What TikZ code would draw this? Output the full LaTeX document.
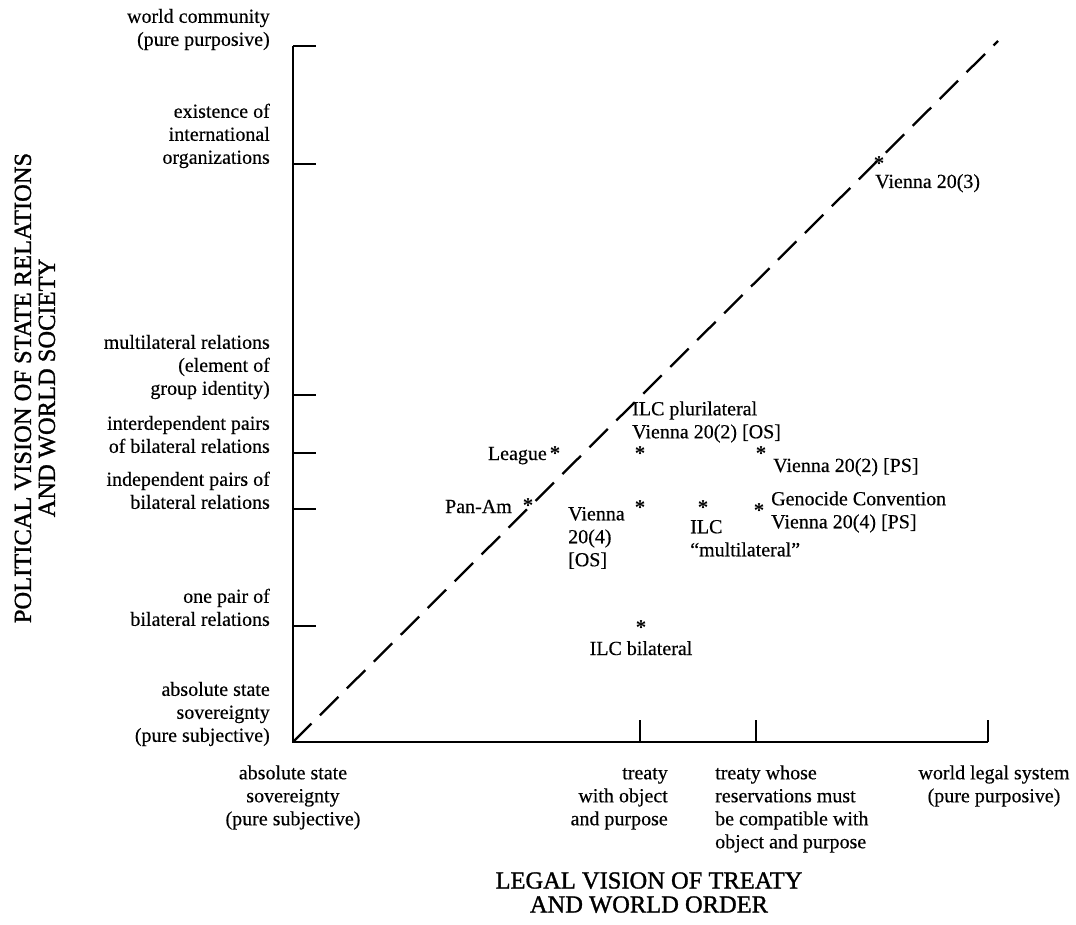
\documentclass[tikz,border=0pt]{standalone}
\usepackage{fontspec}
\setmainfont{Liberation Serif}[FakeBold=0.4]
\newfontfamily\ttlfont{Liberation Serif}[FakeBold=1.2]
\newfontfamily\pntfont{Liberation Serif Bold}
\begin{document}
\begin{tikzpicture}[
	axis/.style={line width=2pt},
	lbl/.style={inner sep=0pt, font=\fontsize{20}{23}\selectfont},
	ttl/.style={inner sep=0pt, font=\ttlfont\fontsize{24.5}{24}\selectfont, align=center},
	pnt/.style={inner sep=0pt, text height=14.5pt, text depth=-5.3pt, font=\pntfont\fontsize{21}{21}\selectfont}]
\useasboundingbox (-10.299,-6.432) rectangle (27.522,26.081);
\coordinate (O) at (0,0);
\coordinate (ytop) at (0,24.464);
\coordinate (xend) at (24.429,0);
\coordinate (diag) at (24.781,24.640);
\coordinate (tx) at (0.808,0); % tick length, y axis
\coordinate (ty) at (0,0.773); % tick length, x axis
\draw[axis] (ytop) -- (O) -- (xend); % axes
\draw[line width=2.3pt, dash pattern=on 26pt off 12pt] (O) -- (diag); % diagonal
% ticks on the y axis
\coordinate (yB) at (0,20.317);
\coordinate (yC) at (0,12.197);
\coordinate (yD) at (0,10.158);
\coordinate (yE) at (0,8.190);
\coordinate (yF) at (0,4.077);
\draw[axis] (ytop) -- (ytop -| tx);
\draw[axis] (yB) -- (yB -| tx);
\draw[axis] (yC) -- (yC -| tx);
\draw[axis] (yD) -- (yD -| tx);
\draw[axis] (yE) -- (yE -| tx);
\draw[axis] (yF) -- (yF -| tx);
% ticks on the x axis
\coordinate (xB) at (12.197,0);
\coordinate (xC) at (16.274,0);
\draw[axis] (xB) -- (xB |- ty);
\draw[axis] (xC) -- (xC |- ty);
\draw[axis] (xend) -- (xend |- ty);
% y axis labels
\node[lbl, align=right, anchor=south east] (lyA) at (-0.808,24.221) {world community\\(pure purposive)\strut};
\node[lbl, align=right, anchor=south east] (lyB) at (-0.808,20.074) {existence of\\international\\organizations\strut};
\node[lbl, align=right, anchor=south east] (lyC) at (-0.808,11.954) {multilateral relations\\(element of\\group identity)\strut};
\node[lbl, align=right, anchor=south east] (lyD) at (-0.808,9.915) {interdependent pairs\\of bilateral relations\strut};
\node[lbl, align=right, anchor=south east] (lyE) at (-0.808,7.947) {independent pairs of\\bilateral relations\strut};
\node[lbl, align=right, anchor=south east] (lyF) at (-0.808,3.834) {one pair of\\bilateral relations\strut};
\node[lbl, align=right, anchor=south east] (lyO) at (-0.808,-0.243) {absolute state\\sovereignty\\(pure subjective)\strut};
% x axis labels
\node[lbl, align=center, anchor=north] (lxO) at (0,-0.738) {\strut absolute state\\sovereignty\\(pure subjective)};
\node[lbl, align=right, anchor=north east] (lxB) at (13.181,-0.738) {\strut treaty\\with object\\and purpose};
\node[lbl, align=left, anchor=north west] (lxC) at (14.833,-0.738) {\strut treaty whose\\reservations must\\be compatible with\\object and purpose};
\node[lbl, align=center, anchor=north] (lxD) at (24.640,-0.738) {\strut world legal system\\(pure purposive)};
% axis titles
\node[ttl, anchor=north] (xtitle) at (12.513,-4.552) {\strut LEGAL VISION OF TREATY\\AND WORLD ORDER};
\node[ttl, rotate=90] (ytitle) at (-9.069,12.443) {POLITICAL VISION OF STATE RELATIONS\\AND WORLD SOCIETY};
% points
\node[pnt] (sLeague) at (9.209,10.158) {*};
\node[pnt] (sPanAm) at (8.260,8.331) {*};
\node[pnt] (sPluri) at (12.197,10.158) {*};
\node[pnt] (sViePS) at (16.450,10.158) {*};
\node[pnt] (sVieOS) at (12.197,8.260) {*};
\node[pnt] (sMulti) at (14.412,8.260) {*};
\node[pnt] (sGeno) at (16.380,8.155) {*};
\node[pnt] (sBilat) at (12.232,4.042) {*};
\node[pnt] (sVieT) at (20.598,20.352) {*};
% point labels
\node[lbl, anchor=base east] (tLeague) at (8.928,9.912) {League};
\node[lbl, anchor=base east] (tPanAm) at (7.698,8.049) {Pan-Am};
\node[lbl, align=left, anchor=north west] (tPluri) at (11.916,12.056) {\strut ILC plurilateral\\Vienna 20(2) [OS]};
\node[lbl, anchor=base west] (tViePS) at (16.872,9.491) {Vienna 20(2) [PS]};
\node[lbl, align=left, anchor=north west] (tVieOS) at (9.666,8.366) {\strut Vienna\\20(4)\\{[OS]}};
\node[lbl, align=left, anchor=north west] (tMulti) at (13.955,7.909) {\strut ILC\\``multilateral''};
\node[lbl, align=left, anchor=north west] (tGeno) at (16.802,8.893) {\strut Genocide Convention\\Vienna 20(4) [PS]};
\node[lbl, anchor=base] (tBilat) at (12.232,3.058) {ILC bilateral};
\node[lbl, anchor=base west] (tVieT) at (20.457,19.473) {Vienna 20(3)};
\end{tikzpicture}
\end{document}
